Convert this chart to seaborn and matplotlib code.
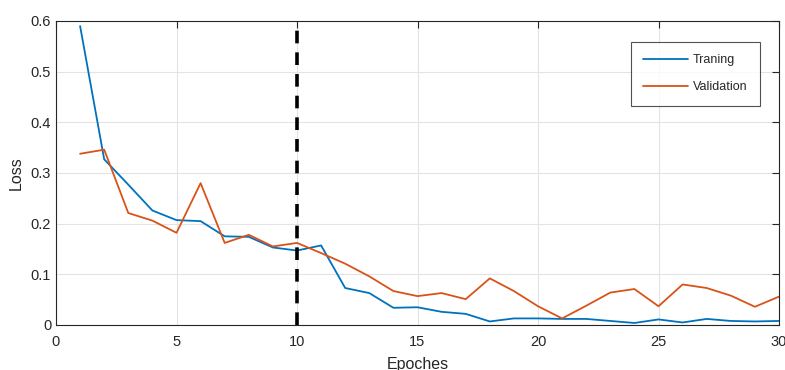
import numpy as np
import pandas as pd
import matplotlib
matplotlib.use("Agg")
import matplotlib.pyplot as plt
import seaborn as sns

epochs = list(range(1, 31))
training = [0.590, 0.327, 0.277, 0.226, 0.207, 0.205, 0.175, 0.174, 0.153, 0.147,
            0.157, 0.073, 0.063, 0.034, 0.035, 0.026, 0.022, 0.007, 0.013, 0.013,
            0.012, 0.012, 0.008, 0.004, 0.011, 0.005, 0.012, 0.008, 0.007, 0.008]
validation = [0.338, 0.346, 0.221, 0.206, 0.182, 0.280, 0.162, 0.178, 0.155, 0.162,
              0.142, 0.121, 0.096, 0.067, 0.057, 0.063, 0.051, 0.092, 0.067, 0.037,
              0.013, 0.038, 0.064, 0.071, 0.037, 0.080, 0.073, 0.058, 0.036, 0.056]
stop_epoch = 10

df = pd.DataFrame({"Epoches": epochs * 2,
                   "Loss": training + validation,
                   "Set": ["Traning"] * 30 + ["Validation"] * 30})

sns.set_style("whitegrid")
plt.rcParams['font.family'] = ['Liberation Sans', 'DejaVu Sans']

fig = plt.figure(figsize=(7.85, 3.7), dpi=100)
ax = fig.add_axes([56 / 785, 1 - 325 / 370, (779 - 56) / 785, (325 - 21) / 370])

sns.lineplot(data=df, x="Epoches", y="Loss", hue="Set",
             palette=["#0072BD", "#D95319"], linewidth=1.3, ax=ax)
ax.axvline(stop_epoch, color="black", linestyle=(0, (3.5, 2.5)), linewidth=2.6)

ax.set_xlim(0, 30)
ax.set_ylim(0, 0.6)
ax.set_xticks(np.arange(0, 31, 5))
ax.set_yticks(np.arange(0, 0.61, 0.1))
ax.set_yticklabels(["0", "0.1", "0.2", "0.3", "0.4", "0.5", "0.6"])
ax.grid(True, color="#e3e3e3", linewidth=0.8)
for s in ax.spines.values():
    s.set_visible(True)
    s.set_color("#262626")
    s.set_linewidth(0.8)
ax.tick_params(direction="in", length=5, width=0.8, color="#262626",
               top=True, right=True, labelsize=10.5, labelcolor="#262626")
ax.tick_params(axis="x", pad=7)
ax.set_xlabel("Epoches", fontsize=11.5, color="#262626", labelpad=6)
ax.set_ylabel("Loss", fontsize=11.5, color="#262626", labelpad=5)

leg = ax.legend(loc="upper right", bbox_to_anchor=(0.974, 0.931), fontsize=9,
                frameon=True, fancybox=False, edgecolor="#262626", borderaxespad=0,
                handlelength=3.6, borderpad=1.0, labelspacing=1.2, handletextpad=0.4)
leg.set_title(None)
leg.get_frame().set_linewidth(0.8)

fig.savefig("out.png", dpi=100)
